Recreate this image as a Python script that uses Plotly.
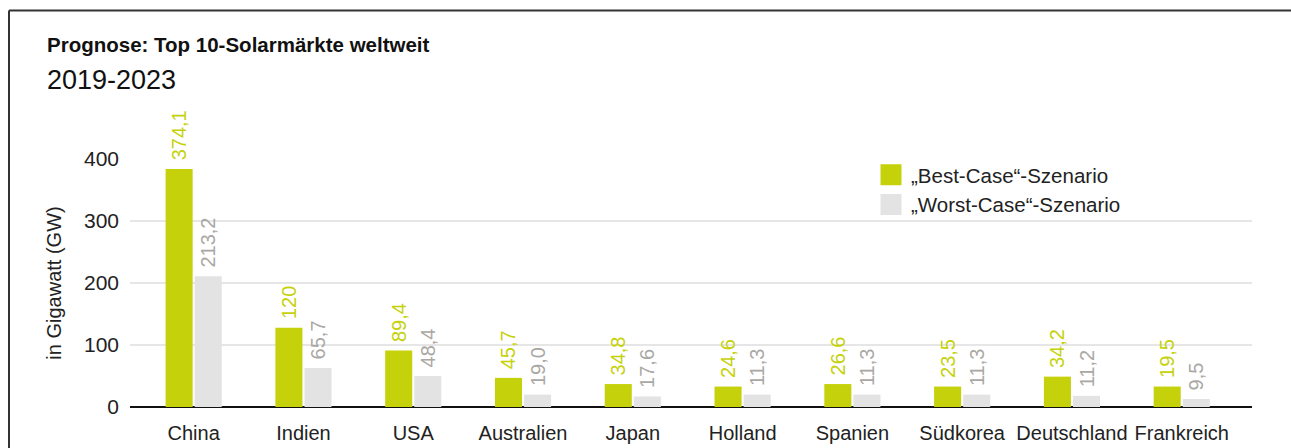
import plotly.graph_objects as go

categories = ["China", "Indien", "USA", "Australien", "Japan", "Holland",
              "Spanien", "Südkorea", "Deutschland", "Frankreich"]
# bar heights as drawn in the picture (GW)
best_case = [384, 128, 91, 47, 37, 33, 37, 33, 49, 33]
worst_case = [211, 63, 50, 20, 17, 20, 20, 20, 18, 13]
# printed value labels
best_labels = ["374,1", "120", "89,4", "45,7", "34,8", "24,6", "26,6", "23,5", "34,2", "19,5"]
worst_labels = ["213,2", "65,7", "48,4", "19,0", "17,6", "11,3", "11,3", "11,3", "11,2", "9,5"]
y_ticks = [0, 100, 200, 300, 400]

GREEN = "#c5d20b"
GRAY = "#e3e3e3"
GRAY_TXT = "#aaa8a4"
FONT = "Liberation Sans"
NB = "\u00a0"

fig = go.Figure()
fig.add_trace(go.Bar(
    x=categories, y=best_case, marker=dict(color=GREEN, line=dict(width=0)),
    text=[NB + t for t in best_labels], textposition="outside", textangle=-90,
    textfont=dict(color=GREEN, size=20, family=FONT), cliponaxis=False,
    constraintext="none", showlegend=False, name="„Best-Case“-Szenario"))
fig.add_trace(go.Bar(
    x=categories, y=worst_case, marker=dict(color=GRAY, line=dict(width=0)),
    text=[NB + t for t in worst_labels], textposition="outside", textangle=-90,
    textfont=dict(color=GRAY_TXT, size=20, family=FONT), cliponaxis=False,
    constraintext="none", showlegend=False, name="„Worst-Case“-Szenario"))
# legend entries
for nm, col in [("„Best-Case“-Szenario", GREEN), ("„Worst-Case“-Szenario", GRAY)]:
    fig.add_trace(go.Scatter(
        x=[None], y=[None], mode="markers", name=nm,
        marker=dict(symbol="square", size=16, color=col, line=dict(color=col, width=5))))

W, H = 1291, 448
L, R, T, B = 130, 39, 159, 41
pw, ph = W - L - R, H - T - B

def px(x):
    return (x - L) / pw

def py(y):
    return (H - B - y) / ph

fig.update_layout(
    template="none",
    width=W, height=H,
    margin=dict(l=L, r=R, t=T, b=B, pad=0),
    paper_bgcolor="white", plot_bgcolor="white",
    font=dict(family=FONT, size=20, color="#222222"),
    barmode="group", bargap=0.47, bargroupgap=0.07,
    showlegend=True,
    legend=dict(x=px(871), y=py(155), xanchor="left", yanchor="top",
                bgcolor="rgba(0,0,0,0)", font=dict(size=20.5, color="#222222"),
                tracegroupgap=0, itemsizing="trace", borderwidth=0),
    xaxis=dict(type="category", range=[-0.58, 9.64], showgrid=False, automargin=False,
               showline=False, zeroline=False, ticks="", ticklabelstandoff=12,
               tickfont=dict(size=20, color="#222222"), fixedrange=True),
    yaxis=dict(range=[0, 400], tickvals=y_ticks, showgrid=True, gridcolor="#e6e6e6",
               gridwidth=2, zeroline=True, zerolinecolor="#111111", zerolinewidth=2,
               showline=False, ticks="", ticklabelstandoff=10, automargin=False,
               tickfont=dict(size=21, color="#222222"),
               title=dict(text="in Gigawatt (GW)", standoff=16,
                          font=dict(size=20, color="#222222"))),
    annotations=[
        dict(text="<b>Prognose: Top 10-Solarmärkte weltweit</b>", xref="paper", yref="paper",
             x=px(45), y=py(44), xanchor="left", yanchor="middle", showarrow=False,
             font=dict(size=20.5, color="#111111")),
        dict(text="2019-2023", xref="paper", yref="paper",
             x=px(45), y=py(80), xanchor="left", yanchor="middle", showarrow=False,
             font=dict(size=27, color="#111111")),
    ],
    shapes=[
        dict(type="line", xref="paper", yref="paper", x0=px(9), x1=px(1295),
             y0=py(10.5), y1=py(10.5), line=dict(color="#333333", width=2)),
        dict(type="line", xref="paper", yref="paper", x0=px(9), x1=px(9),
             y0=py(10.5), y1=py(460), line=dict(color="#333333", width=2)),
    ],
)

fig.write_html("out.html", config={"displayModeBar": False},
               post_script="document.body.style.margin='0';")
